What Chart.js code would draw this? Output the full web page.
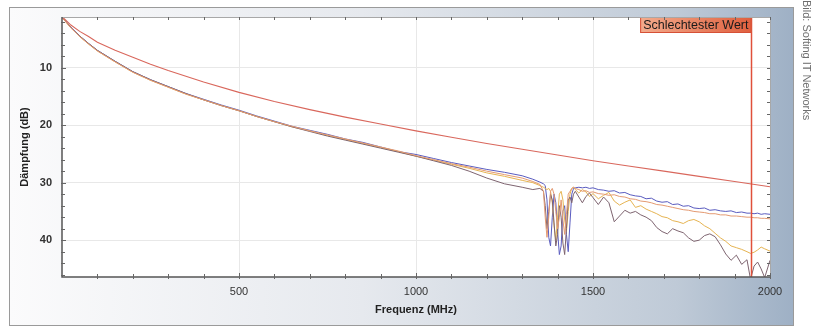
<!DOCTYPE html>
<html>
<head>
<meta charset="utf-8">
<script src="https://cdn.jsdelivr.net/npm/chart.js@4.4.1/dist/chart.umd.min.js"></script>
<style>
  html, body { margin: 0; padding: 0; background: #fff; }
  #wrap { position: relative; width: 816px; height: 326px; }
  #credit {
    position: absolute; left: 801px; top: 0px;
    writing-mode: vertical-rl;
    font: 11px "Liberation Sans Narrow", "Liberation Sans", Arial, sans-serif;
    color: #6e6e6e;
  }
</style>
</head>
<body>
<div id="wrap">
  <canvas id="myChart" width="816" height="326"></canvas>
  <div id="credit">Bild: Softing IT Networks</div>
</div>
<script>
// frequency grid of the measured pairs (MHz)
const freqMHz = [1, 10, 25, 50, 75, 100, 150, 200, 250, 300,
    350, 400, 450, 500, 550, 600, 650, 700, 750, 800,
    850, 900, 950, 1000, 1050, 1100, 1150, 1200, 1250, 1300,
    1330, 1350, 1360, 1365, 1370, 1375, 1380, 1385, 1390, 1395,
    1400, 1405, 1410, 1415, 1420, 1425, 1430, 1435, 1440, 1445,
    1450, 1460, 1470, 1480, 1490, 1500, 1515, 1530, 1545, 1560,
    1575, 1590, 1605, 1620, 1635, 1650, 1665, 1680, 1695, 1710,
    1725, 1740, 1755, 1770, 1785, 1800, 1815, 1830, 1845, 1860,
    1875, 1890, 1905, 1920, 1935, 1945, 1955, 1965, 1975, 1985,
    2000];

const dbBlue = [1.3, 1.9, 3.0, 4.5, 5.8, 7.0, 8.9, 10.7, 12.1, 13.3,
    14.5, 15.5, 16.5, 17.4, 18.4, 19.3, 20.2, 20.9, 21.6, 22.4,
    23.0, 23.8, 24.6, 25.1, 25.8, 26.5, 27.1, 27.7, 28.2, 28.8,
    29.4, 29.9, 30.2, 30.5, 33.0, 39.5, 41.0, 36.0, 32.0, 33.5,
    38.5, 42.5, 41.0, 35.0, 34.0, 39.0, 42.0, 37.0, 32.0, 31.0,
    30.9, 30.8, 30.9, 30.8, 31.0, 30.9, 31.2, 31.3, 31.5, 31.4,
    31.8, 31.7, 32.1, 32.3, 32.4, 32.8, 32.7, 33.2, 33.4, 33.3,
    33.8, 33.7, 34.1, 34.0, 34.4, 34.5, 34.4, 34.8, 34.7, 34.9,
    35.0, 34.9, 35.2, 35.1, 35.3, 35.3, 35.4, 35.3, 35.5, 35.4,
    35.5];

const dbTan = [1.3, 2.0, 3.1, 4.6, 5.9, 7.1, 9.0, 10.8, 12.2, 13.4,
    14.6, 15.6, 16.6, 17.5, 18.5, 19.4, 20.2, 21.0, 21.7, 22.4,
    23.1, 23.8, 24.5, 25.3, 26.0, 26.7, 27.3, 28.0, 28.6, 29.2,
    29.8, 30.3, 31.5, 36.0, 39.5, 36.0, 31.5, 31.0, 32.0, 35.0,
    38.0, 36.0, 33.0, 36.5, 39.0, 35.5, 32.0, 31.5, 31.0, 30.8,
    31.0, 31.2, 31.5, 31.4, 31.7, 31.6, 31.9, 32.0, 32.2, 32.1,
    32.4, 32.5, 32.8, 32.9, 33.2, 33.3, 33.5, 33.8, 33.9, 34.1,
    34.3, 34.5, 34.7, 34.8, 35.0, 35.1, 35.2, 35.4, 35.4, 35.6,
    35.6, 35.8, 35.8, 35.9, 36.0, 36.0, 36.1, 36.1, 36.2, 36.2,
    36.3];

const dbGold = [1.3, 2.0, 3.1, 4.6, 5.9, 7.1, 9.0, 10.8, 12.2, 13.4,
    14.6, 15.6, 16.6, 17.5, 18.5, 19.4, 20.3, 21.0, 21.8, 22.5,
    23.2, 23.9, 24.6, 25.4, 26.1, 26.8, 27.5, 28.3, 28.9, 29.6,
    30.0, 30.5, 30.8, 31.0, 31.2, 31.0, 31.5, 33.5, 37.5, 40.0,
    36.0, 32.0, 31.5, 33.0, 36.5, 38.5, 35.0, 32.0, 31.0, 30.8,
    31.2, 31.8, 31.2, 31.6, 32.4, 31.9, 32.8, 32.2, 31.7, 33.2,
    33.9, 33.4, 33.0, 34.3, 34.0, 34.6, 35.0, 35.4, 35.9, 36.1,
    36.6, 36.8, 37.1, 36.6, 36.4, 36.8, 37.5, 38.0, 38.8, 39.6,
    40.2, 41.0, 41.3, 41.6, 42.0, 42.3, 42.1, 41.7, 41.2, 41.5,
    41.9];

const dbGray = [1.3, 1.9, 3.0, 4.5, 5.8, 7.0, 8.9, 10.7, 12.1, 13.3,
    14.5, 15.6, 16.6, 17.5, 18.5, 19.4, 20.3, 21.1, 21.9, 22.6,
    23.3, 24.0, 24.7, 25.4, 26.2, 27.0, 28.0, 29.2, 30.2, 30.8,
    31.2, 31.0, 31.5, 34.0, 38.0, 35.0, 32.0, 33.0, 37.0, 41.0,
    39.0, 34.0, 36.0, 40.5, 42.5, 38.0, 33.0, 32.5, 33.5, 32.0,
    31.5, 32.5, 33.5, 32.4, 31.8, 32.6, 33.8, 32.5, 33.5, 36.8,
    35.8, 34.8, 35.3, 35.0, 35.6, 36.0, 36.6, 37.8, 38.5, 38.9,
    38.0, 38.4, 38.7, 39.6, 40.2, 40.0, 39.2, 38.9, 39.4, 40.8,
    42.4, 43.5, 42.6, 44.2, 43.4, 46.8, 44.5, 43.8, 45.0, 46.5,
    43.5];

// limit line (Grenzwert)
const freqLimit = [1, 10, 25, 50, 75, 100, 150, 200, 250, 300, 400, 500, 600, 700,
    800, 900, 1000, 1100, 1200, 1300, 1400, 1500, 1600, 1700, 1800, 1900, 2000];
const dbLimit = [1.2, 1.7, 2.6, 3.7, 4.6, 5.6, 7.0, 8.2, 9.4, 10.5, 12.5, 14.3, 15.9, 17.3,
    18.6, 19.8, 21.0, 22.1, 23.2, 24.2, 25.2, 26.2, 27.1, 28.0, 28.9, 29.8, 30.7];

const worstFreqMHz = 1947;
const worstLabel = "Schlechtester Wert";

const xTicks = [100, 200, 300, 400, 500, 600, 700, 800, 900, 1000,
    1100, 1200, 1300, 1400, 1500, 1600, 1700, 1800, 1900, 2000];
const xTickLabels = [500, 1000, 1500, 2000];
const yTicks = [2, 4, 6, 8, 10, 12, 14, 16, 18, 20, 22, 24, 26, 28, 30,
    32, 34, 36, 38, 40, 42, 44, 46];
const yTickLabels = [10, 20, 30, 40];

function toPoints(xs, ys) {
    return xs.map((x, i) => ({ x: x, y: ys[i] }));
}

function line(label, xs, ys, color, width) {
    return {
        label: label,
        data: toPoints(xs, ys),
        borderColor: color,
        borderWidth: width,
        pointRadius: 0,
        fill: false,
        tension: 0,
    };
}

// panel background, plot frame, tick marks and the worst-value marker
const framePlugin = {
    id: "framePlugin",
    beforeDraw(chart) {
        const { ctx, chartArea: a } = chart;
        ctx.save();
        const g = ctx.createLinearGradient(9, 0, 794, 0);
        g.addColorStop(0, "#fbfbfc");
        g.addColorStop(0.45, "#e6e9ee");
        g.addColorStop(0.85, "#bfcad7");
        g.addColorStop(1, "#9eb0c5");
        ctx.fillStyle = g;
        ctx.fillRect(9, 7, 785, 318);
        ctx.strokeStyle = "#9a9a9a";
        ctx.lineWidth = 1;
        ctx.strokeRect(9.5, 7.5, 784, 318);
        ctx.fillStyle = "#ffffff";
        ctx.fillRect(a.left, a.top, a.right - a.left, a.bottom - a.top);
        ctx.restore();
    },
    afterDatasetsDraw(chart) {
        const { ctx, chartArea: a, scales } = chart;
        const xs = scales.x, ys = scales.y;
        ctx.save();

        // worst value marker
        const wx = Math.round(xs.getPixelForValue(worstFreqMHz)) + 0.5;
        ctx.strokeStyle = "#e0503a";
        ctx.lineWidth = 1.5;
        ctx.beginPath();
        ctx.moveTo(wx, a.top);
        ctx.lineTo(wx, a.bottom);
        ctx.stroke();

        ctx.font = "12.5px 'Liberation Sans', Arial, sans-serif";
        const tw = ctx.measureText(worstLabel).width;
        const bx = wx - tw - 6;
        const g = ctx.createLinearGradient(bx, 0, wx, 0);
        g.addColorStop(0, "#f3ab8c");
        g.addColorStop(1, "#e0603f");
        ctx.fillStyle = g;
        ctx.fillRect(bx, a.top, wx - bx, 16);
        ctx.strokeStyle = "#d65036";
        ctx.lineWidth = 1;
        ctx.strokeRect(bx + 0.5, a.top + 0.5, wx - bx - 1, 15);
        ctx.fillStyle = "#1a1a1a";
        ctx.textBaseline = "middle";
        ctx.fillText(worstLabel, bx + 3, a.top + 8.5);

        // frame
        ctx.strokeStyle = "#a8a8a8";
        ctx.lineWidth = 1;
        ctx.beginPath();
        ctx.moveTo(a.left, a.top + 0.5);
        ctx.lineTo(a.right + 0.5, a.top + 0.5);
        ctx.lineTo(a.right + 0.5, a.bottom);
        ctx.stroke();
        ctx.strokeStyle = "#555";
        ctx.lineWidth = 1.5;
        ctx.beginPath();
        ctx.moveTo(a.left, a.top);
        ctx.lineTo(a.left, a.bottom);
        ctx.lineTo(a.right + 1, a.bottom);
        ctx.stroke();

        // tick marks on all four sides
        ctx.lineWidth = 1;
        ctx.strokeStyle = "#666";
        ctx.beginPath();
        xTicks.forEach((v) => {
            const px = Math.round(xs.getPixelForValue(v)) + 0.5;
            const big = xTickLabels.includes(v) ? 4 : 3;
            ctx.moveTo(px, a.bottom - big);
            ctx.lineTo(px, a.bottom + 2);
            ctx.moveTo(px, a.top);
            ctx.lineTo(px, a.top + 3);
        });
        yTicks.forEach((v) => {
            const py = Math.round(ys.getPixelForValue(v)) + 0.5;
            const big = yTickLabels.includes(v) ? 4 : 3;
            ctx.moveTo(a.left - 1, py);
            ctx.lineTo(a.left + big, py);
            ctx.moveTo(a.right - 3, py);
            ctx.lineTo(a.right, py);
        });
        ctx.stroke();
        ctx.restore();
    },
};

Chart.defaults.font.family = "'Liberation Sans', Arial, sans-serif";
Chart.defaults.color = "#333";

const ctx = document.getElementById("myChart").getContext("2d");
const chart = new Chart(ctx, {
    type: "line",
    data: {
        datasets: [
            line("Grenzwert", freqLimit, dbLimit, "#d9675c", 1.1),
            line("Paar 2", freqMHz, dbTan, "#e49a72", 1),
            line("Paar 1", freqMHz, dbGray, "#7e6470", 1),
            line("Paar 3", freqMHz, dbGold, "#e6b452", 1),
            line("Paar 4", freqMHz, dbBlue, "#5a5cc0", 1),
        ],
    },
    options: {
        responsive: false,
        animation: false,
        layout: { padding: { left: 0, right: 46, top: 17, bottom: 0 } },
        plugins: {
            legend: { display: false },
            tooltip: { enabled: false },
        },
        scales: {
            x: {
                type: "linear",
                min: 0,
                max: 2000,
                afterBuildTicks: (scale) => {
                    scale.ticks = xTicks.map((v) => ({ value: v }));
                },
                afterFit: (scale) => {
                    scale.height = 49;
                },
                ticks: {
                    autoSkip: false,
                    maxRotation: 0,
                    padding: 8,
                    font: { size: 11 },
                    callback: (value) => (xTickLabels.includes(value) ? value : ""),
                },
                grid: {
                    drawTicks: false,
                    color: (c) =>
                        c.tick && xTickLabels.includes(c.tick.value) && c.tick.value < 2000
                            ? "#e8e8e8"
                            : "rgba(0,0,0,0)",
                },
                border: { display: false },
                title: {
                    display: true,
                    text: "Frequenz (MHz)",
                    font: { size: 11, weight: "bold" },
                    color: "#222",
                    padding: { top: 0, bottom: 9 },
                },
            },
            y: {
                type: "linear",
                reverse: true,
                min: 1.2,
                max: 46.4,
                afterBuildTicks: (scale) => {
                    scale.ticks = yTicks.map((v) => ({ value: v }));
                },
                afterFit: (scale) => {
                    scale.width = 62;
                },
                ticks: {
                    autoSkip: false,
                    padding: 10,
                    font: { size: 11, weight: "bold" },
                    callback: (value) => (yTickLabels.includes(value) ? value : ""),
                },
                grid: {
                    drawTicks: false,
                    color: (c) =>
                        c.tick && yTickLabels.includes(c.tick.value)
                            ? "#e8e8e8"
                            : "rgba(0,0,0,0)",
                },
                border: { display: false },
                title: {
                    display: true,
                    text: "Dämpfung (dB)",
                    font: { size: 11, weight: "bold" },
                    color: "#222",
                    padding: { top: 18, bottom: 0 },
                },
            },
        },
    },
    plugins: [framePlugin],
});
</script>
</body>
</html>
